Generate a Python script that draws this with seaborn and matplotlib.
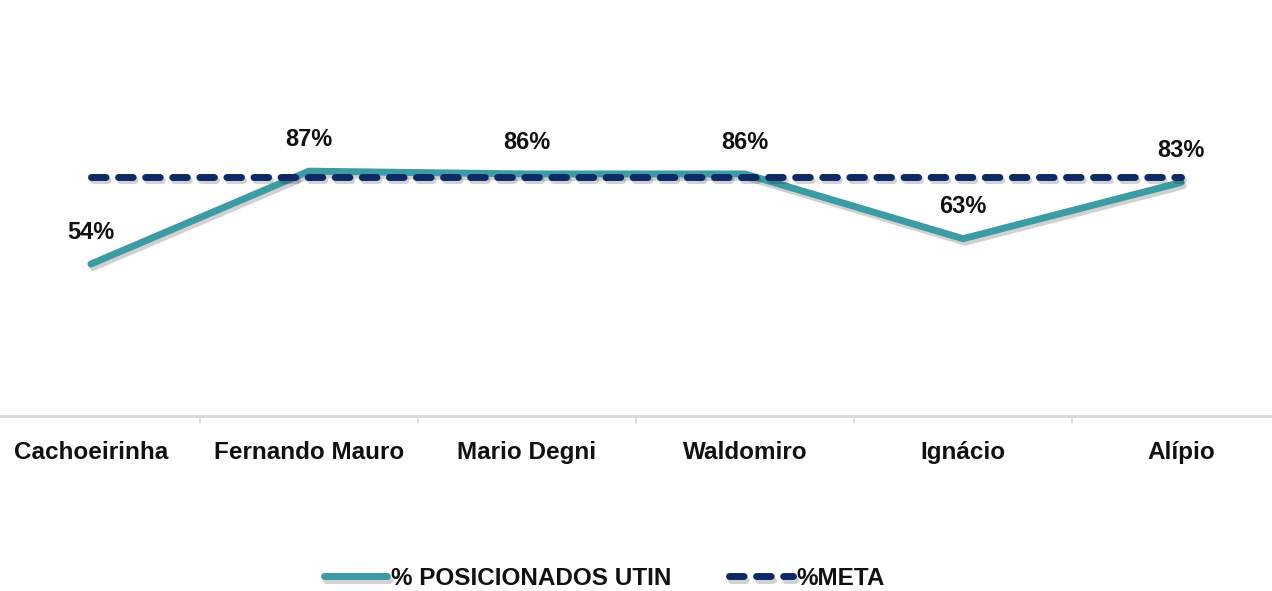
import pandas as pd
import matplotlib.pyplot as plt
import matplotlib.patheffects as pe
import seaborn as sns

# Data
unidades = ["Cachoeirinha", "Fernando Mauro", "Mario Degni", "Waldomiro", "Ignácio", "Alípio"]
posicionados = [0.54, 0.87, 0.86, 0.86, 0.63, 0.83]
meta = [0.85, 0.85, 0.85, 0.85, 0.85, 0.85]
labels = ["54%", "87%", "86%", "86%", "63%", "83%"]

df = pd.DataFrame({"unidade": unidades, "pos": posicionados, "meta": meta})
df["x"] = range(len(df))

sns.set_style("white")
plt.rcParams["font.family"] = ["Liberation Sans Narrow", "Liberation Sans", "DejaVu Sans"]

teal = "#3c9ba3"
navy = "#0d2a66"
dash = [2.1, 1.8]

fig = plt.figure(figsize=(12.72, 5.91), dpi=100)
ax = fig.add_axes([0, 175 / 591, 1, 394 / 591])

shadow = [pe.SimpleLineShadow(offset=(1.5, -2.5), alpha=0.18, rho=0.6), pe.Normal()]

sns.lineplot(data=df, x="x", y="pos", ax=ax, color=teal, linewidth=5,
             label="% POSICIONADOS UTIN", path_effects=shadow, solid_capstyle="round")
sns.lineplot(data=df, x="x", y="meta", ax=ax, color=navy, linewidth=5,
             label="%META", path_effects=shadow)
ax.lines[1].set_dashes(dash)
ax.lines[1].set_dash_capstyle("round")

for xi, yi, lab in zip(df["x"], df["pos"], labels):
    ax.annotate(lab, (xi, yi), xytext=(0, 23), textcoords="offset points",
                ha="center", va="center", fontsize=17, fontweight="bold", color="#111111")

ax.set_xlim(-0.417, 5.417)
ax.set_ylim(0, 1.4)
ax.set_xticks(df["x"])
ax.set_xticklabels(unidades, fontsize=17.5, fontweight="bold", color="#111111")
ax.tick_params(axis="x", length=0, pad=18)
ax.set_yticks([])
ax.set_xlabel("")
ax.set_ylabel("")
for s in ["top", "right", "left"]:
    ax.spines[s].set_visible(False)
ax.spines["bottom"].set_color("#d9d9d9")
ax.spines["bottom"].set_linewidth(2)

# separators between categories
for b in [0.5, 1.5, 2.5, 3.5, 4.5]:
    ax.plot([b, b], [0, -0.025], color="#d9d9d9", linewidth=1.2, clip_on=False)

leg = ax.legend(loc="center", bbox_to_anchor=(0.475, -0.412), ncol=2, frameon=False,
                prop={"size": 17.5, "weight": "bold"}, handlelength=2.6, columnspacing=2.4,
                handletextpad=0.15, labelcolor="#111111")
leg.get_lines()[1].set_dashes(dash)
leg.get_lines()[1].set_dash_capstyle("round")

fig.savefig("out.png", dpi=100)
